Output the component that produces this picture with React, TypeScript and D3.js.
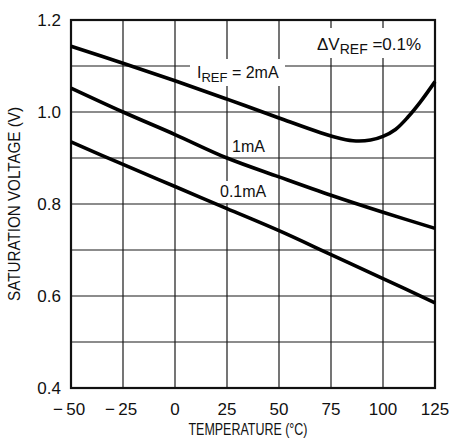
import React from "react";
import * as d3 from "d3";

const tempTicks = [-50, -25, 0, 25, 50, 75, 100, 125];
const voltTicks = [0.4, 0.5, 0.6, 0.7, 0.8, 0.9, 1.0, 1.1, 1.2];
const voltLabels = [0.4, 0.6, 0.8, 1.0, 1.2];

const temp2mA = [-50, -25, 0, 25, 50, 70, 80, 87, 94, 100, 106, 112, 118, 125];
const vsat2mA = [1.143, 1.106, 1.068, 1.028, 0.987, 0.955, 0.942, 0.937, 0.939, 0.947, 0.962, 0.989, 1.022, 1.066];

const temp1mA = [-50, -25, 0, 25, 50, 75, 100, 125];
const vsat1mA = [1.052, 1.0, 0.951, 0.9, 0.859, 0.819, 0.782, 0.747];

const temp01mA = [-50, -25, 0, 25, 50, 75, 100, 125];
const vsat01mA = [0.935, 0.886, 0.838, 0.79, 0.742, 0.69, 0.638, 0.585];

const W = 449;
const H = 439;
const L = 71, R = 435, T = 20, B = 388;

const x = d3.scaleLinear().domain([-50, 125]).range([L, R]);
const y = d3.scaleLinear().domain([0.4, 1.2]).range([B, T]);

const line = d3
  .line<[number, number]>()
  .x((d) => x(d[0]))
  .y((d) => y(d[1]))
  .curve(d3.curveCatmullRom.alpha(0.5));

const series = [
  { t: temp2mA, v: vsat2mA },
  { t: temp1mA, v: vsat1mA },
  { t: temp01mA, v: vsat01mA },
];

const numFont = "'Liberation Sans', Arial, sans-serif";
const narrowFont = "'Liberation Sans Narrow', 'Arial Narrow', 'Liberation Sans', Arial, sans-serif";

function fmtTemp(t: number) {
  return t < 0 ? "\u2212" + "\u2009" + Math.abs(t) : String(t);
}

export default function App() {
  return (
    <svg
      width={W}
      height={H}
      viewBox={`0 0 ${W} ${H}`}
      style={{ position: "absolute", left: 0, top: 0, background: "#fff" }}
    >
      <rect x={0} y={0} width={W} height={H} fill="#fff" />
      {/* grid */}
      <g stroke="#1a1a1a" strokeWidth={1.2}>
        {tempTicks.map((t) => (
          <line key={"vx" + t} x1={x(t)} x2={x(t)} y1={T} y2={B} />
        ))}
        {voltTicks.map((v) => (
          <line key={"hy" + v} x1={L} x2={R} y1={y(v)} y2={y(v)} />
        ))}
      </g>
      {/* label backgrounds */}
      <g fill="#fff">
        <rect x={313} y={28} width={113} height={30} />
        <rect x={190} y={59} width={95} height={27} />
        <rect x={228} y={136} width={40} height={21} />
        <rect x={216} y={181} width={54} height={22} />
      </g>
      {/* frame */}
      <rect x={L} y={T} width={R - L} height={B - T} fill="none" stroke="#111" strokeWidth={2.2} />
      {/* curves */}
      <g fill="none" stroke="#000" strokeWidth={3.6} strokeLinejoin="round">
        {series.map((s, i) => (
          <path key={i} d={line(s.t.map((t, j) => [t, s.v[j]] as [number, number])) || ""} />
        ))}
      </g>
      {/* y tick labels */}
      <g fontFamily={numFont} fontSize={17} fill="#111" textAnchor="end">
        {voltLabels.map((v) => (
          <text key={"yl" + v} x={61} y={y(v) + 6}>
            {v.toFixed(1)}
          </text>
        ))}
      </g>
      {/* x tick labels */}
      <g fontFamily={numFont} fontSize={17} fill="#111" textAnchor="middle">
        {tempTicks.map((t) => (
          <text key={"xl" + t} x={x(t) - (t < 0 ? 2 : 0)} y={415}>
            {fmtTemp(t)}
          </text>
        ))}
      </g>
      {/* axis titles */}
      <text
        x={248}
        y={435}
        fontFamily={narrowFont}
        fontSize={16}
        fill="#111"
        textAnchor="middle"
        textLength={119}
        lengthAdjust="spacingAndGlyphs"
      >
        TEMPERATURE (°C)
      </text>
      <text
        transform={`translate(20, ${(T + B) / 2}) rotate(-90)`}
        fontFamily={narrowFont}
        fontSize={16}
        fill="#111"
        textAnchor="middle"
        textLength={194}
        lengthAdjust="spacingAndGlyphs"
      >
        SATURATION VOLTAGE (V)
      </text>
      {/* annotations */}
      <text x={317} y={50} fontFamily={numFont} fontSize={17} fill="#111">
        <tspan>ΔV</tspan>
        <tspan fontSize={14} dy={4}>REF</tspan>
        <tspan dy={-4}> =0.1%</tspan>
      </text>
      <text x={197} y={78} fontFamily={numFont} fontSize={16} fill="#111">
        <tspan>I</tspan>
        <tspan fontSize={13} dy={4}>REF</tspan>
        <tspan dy={-4}> = 2mA</tspan>
      </text>
      <text x={232} y={152} fontFamily={numFont} fontSize={16} fill="#111">
        1mA
      </text>
      <text x={220} y={197} fontFamily={numFont} fontSize={16} fill="#111">
        0.1mA
      </text>
    </svg>
  );
}
